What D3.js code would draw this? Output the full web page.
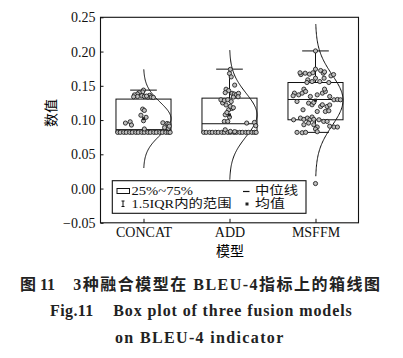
<!DOCTYPE html>
<html><head><meta charset="utf-8">
<script src="https://cdn.jsdelivr.net/npm/d3@7"></script>
<style>
html,body{margin:0;padding:0;background:#fff;}
svg{display:block;}
</style></head>
<body>
<svg id="chart" width="403" height="358"></svg>
<script>
// ---------- data ----------
const categories = ["CONCAT", "ADD", "MSFFM"];
const q1 = [0.082, 0.082, 0.1004];
const medians = [0.086, 0.0946, 0.130];
const q3 = [0.1306, 0.132, 0.1548];
const whiskerLow = [0.082, 0.082, 0.082];
const whiskerHigh = [0.1437, 0.1743, 0.2009];
const means = [0.102, 0.1075, 0.129];
const curveSd = [0.024, 0.0315, 0.037];
const yTicks = [-0.05, 0, 0.05, 0.10, 0.15, 0.20, 0.25];
const yTitle = "数值";
const xTitle = "模型";
const legendLabels = ["25%~75%", "1.5IQR内的范围", "中位线", "均值"];
const captionCn1 = "图 11", captionCn2 = "3种融合模型在 BLEU-4指标上的箱线图";
const captionEn1 = "Fig.11", captionEn2 = "Box plot of three fusion models", captionEn3 = "on BLEU-4 indicator";

// points: [value, jitter (category units)]
const bottomJitter = [-0.30,-0.27,-0.23,-0.20,-0.16,-0.13,-0.09,-0.06,-0.02,0.01,0.05,0.08,0.12,0.15,0.19,0.22,0.26,0.29,0.31];
const pointsConcat = bottomJitter.map(j => [0.082, j]).concat([
  [0.087,0.01],[0.0956,-0.21],[0.0975,-0.155],[0.0927,-0.14],
  [0.116,-0.01],[0.114,0.01],[0.107,-0.03],[0.104,0.03],[0.099,0.0],
  [0.096,0.225],[0.095,0.275],[0.094,0.295],[0.089,0.245],[0.088,0.29],[0.091,0.30],
  [0.1437,0],[0.141,-0.01],[0.140,-0.05],[0.138,-0.07],[0.1367,-0.105],[0.1355,-0.02],[0.1344,-0.07],
  [0.1345,0.01],[0.136,0.07],[0.1335,0.05],[0.1335,0.09],[0.133,0.115],[0.134,-0.115],[0.135,0.035]
]);
const pointsAdd = bottomJitter.map(j => [0.082, j]).concat([
  [0.0858,-0.05],[0.0834,0.01],[0.083,0.06],
  [0.0956,0.20],[0.0965,0.29],[0.0917,0.305],
  [0.098,-0.06],[0.098,-0.02],[0.1077,-0.05],[0.1044,0.0],[0.115,-0.01],[0.117,0.03],[0.111,-0.03],
  [0.120,0.01],[0.118,0.045],[0.125,-0.08],[0.122,-0.04],[0.1296,-0.10],[0.1286,-0.06],[0.1296,-0.02],[0.127,0.02],
  [0.174,0.01],[0.168,0.0],[0.163,0.02],[0.151,0.06],[0.145,-0.04],[0.143,-0.01],[0.140,-0.05],
  [0.139,0.03],[0.138,0.055],[0.137,0.08],[0.139,0.105],[0.1335,0.045],[0.134,0.10]
]);
const pointsMsffm = [
  [0.2009,0],[0.1743,0],[0.1684,-0.12],[0.1664,-0.17],[0.1690,-0.18],[0.1670,-0.07],[0.1690,-0.03],
  [0.1723,0.06],[0.1684,0.09],[0.1703,0.105],[0.1645,0.18],[0.1664,0.21],[0.1587,-0.09],[0.1562,-0.04],
  [0.1611,0.0],[0.1562,0.05],[0.1611,0.10],[0.1548,0.155],[0.1548,-0.10],[0.1368,-0.195],[0.1393,-0.155],
  [0.1451,-0.135],[0.1393,-0.245],[0.1354,-0.26],[0.1417,-0.115],[0.1344,-0.06],[0.1368,0.02],[0.1393,0.08],
  [0.1417,0.115],[0.1451,0.105],[0.1344,0.165],[0.1296,0.215],[0.1300,0.255],[0.1296,0.29],[0.1271,-0.215],
  [0.1247,-0.08],[0.1223,-0.04],[0.1257,-0.02],[0.1198,0.06],[0.1223,0.08],[0.1198,0.135],[0.1220,0.165],
  [0.1150,-0.145],[0.1125,0.02],[0.1125,0.115],[0.1135,0.155],[0.1004,-0.255],[0.1029,-0.175],[0.1010,-0.135],
  [0.1029,-0.095],[0.1004,-0.065],[0.1044,-0.04],[0.1010,-0.02],[0.1004,0.04],[0.0980,0.095],[0.0956,-0.08],
  [0.0932,-0.02],[0.0932,-0.135],[0.0980,0.135],[0.0898,0.02],[0.0869,0.0],[0.0910,0.165],[0.0898,0.215],
  [0.0898,0.255],[0.0820,-0.215],[0.0815,-0.155],[0.0820,-0.115],[0.0830,0.02],[0.0073,0]
];
const pointSets = [pointsConcat, pointsAdd, pointsMsffm];

// ---------- layout ----------
const serif = "'Liberation Serif','Times New Roman','Noto Sans CJK SC',serif";
const cjk = "'Noto Sans CJK SC','Liberation Serif',sans-serif";
const L = 100.5, R = 358.5, T = 17.3, B = 222.8;
const boxW = 0.64, capW = 0.31, curveAmp = 0.32;

const svg = d3.select("#chart");
const x = d3.scaleLinear().domain([0.5, 3.5]).range([L, R]);
const y = d3.scaleLinear().domain([-0.05, 0.25]).range([B, T]);

svg.append("defs").append("clipPath").attr("id","clip")
  .append("rect").attr("x",L).attr("y",T).attr("width",R-L).attr("height",B-T);

// axes
const yAxis = d3.axisLeft(y).tickValues(yTicks).tickSize(-3).tickPadding(5)
  .tickFormat(d3.format(".2f"));
const gy = svg.append("g").attr("transform",`translate(${L},0)`).call(yAxis);
gy.select(".domain").remove();
gy.selectAll("text").attr("font-family",serif).attr("font-size",14).attr("fill","#111");
gy.selectAll("line").attr("stroke","#111");

const xAxis = d3.axisBottom(x).tickValues([1,2,3]).tickFormat((d,i)=>categories[i]).tickSize(-4).tickPadding(4);
const gx = svg.append("g").attr("transform",`translate(0,${B})`).call(xAxis);
gx.select(".domain").remove();
gx.selectAll("text").attr("font-family",serif).attr("font-size",14).attr("fill","#111");
gx.selectAll("line").attr("stroke","#111");

svg.append("rect").attr("x",L).attr("y",T).attr("width",R-L).attr("height",B-T)
  .attr("fill","none").attr("stroke","#111").attr("stroke-width",1.1);

const plot = svg.append("g").attr("clip-path","url(#clip)");

// distribution curves
categories.forEach((c,i) => {
  const m = means[i], s = curveSd[i];
  const vals = d3.range(0, 121).map(k => m - 3*s + k*(6*s/120));
  const line = d3.line()
    .x(v => x(i+1 + curveAmp*Math.exp(-0.5*((v-m)/s)**2)))
    .y(v => y(v));
  plot.append("path").attr("d",line(vals)).attr("fill","none")
    .attr("stroke","#111").attr("stroke-width",1);
});

// boxes
categories.forEach((c,i) => {
  const cx = i+1;
  const g = plot.append("g").attr("stroke","#111").attr("stroke-width",1).attr("fill","none");
  g.append("line").attr("x1",x(cx)).attr("x2",x(cx)).attr("y1",y(q3[i])).attr("y2",y(whiskerHigh[i]));
  g.append("line").attr("x1",x(cx)).attr("x2",x(cx)).attr("y1",y(q1[i])).attr("y2",y(whiskerLow[i]));
  g.append("line").attr("x1",x(cx-capW/2)).attr("x2",x(cx+capW/2)).attr("y1",y(whiskerHigh[i])).attr("y2",y(whiskerHigh[i]));
  g.append("line").attr("x1",x(cx-capW/2)).attr("x2",x(cx+capW/2)).attr("y1",y(whiskerLow[i])).attr("y2",y(whiskerLow[i]));
  g.append("rect").attr("x",x(cx-boxW/2)).attr("y",y(q3[i]))
    .attr("width",x(cx+boxW/2)-x(cx-boxW/2)).attr("height",y(q1[i])-y(q3[i]));
  g.append("line").attr("x1",x(cx-boxW/2)).attr("x2",x(cx+boxW/2)).attr("y1",y(medians[i])).attr("y2",y(medians[i]));
});

// points
pointSets.forEach((pts,i) => {
  plot.append("g").selectAll("circle").data(pts).join("circle")
    .attr("cx", d => x(i+1+d[1])).attr("cy", d => y(d[0])).attr("r",2.1)
    .attr("fill","#bdbdbd").attr("stroke","#1a1a1a").attr("stroke-width",0.85);
});
// means
plot.append("g").selectAll("rect").data(means).join("rect")
  .attr("x",(d,i)=>x(i+1)-1.5).attr("y",d=>y(d)-1.5).attr("width",3).attr("height",3).attr("fill","#222");

// legend
const lg = svg.append("g");
lg.append("rect").attr("x",112.3).attr("y",180.7).attr("width",193.7).attr("height",32.6)
  .attr("fill","#fff").attr("stroke","#111").attr("stroke-width",1.1);
lg.append("rect").attr("x",117).attr("y",188.5).attr("width",12.5).attr("height",5)
  .attr("fill","none").attr("stroke","#111").attr("stroke-width",1);
lg.append("path").attr("d","M121.5,201 h3 M123,201 v5.5 M121.5,206.5 h3").attr("stroke","#111").attr("stroke-width",1);
lg.append("line").attr("x1",243).attr("x2",249.5).attr("y1",191.5).attr("y2",191.5).attr("stroke","#111").attr("stroke-width",1.2);
lg.append("rect").attr("x",245.5).attr("y",202.5).attr("width",3).attr("height",3).attr("fill","#222");
const lt = [[legendLabels[0],131.5,195.3,61.5],[legendLabels[1],131.5,207.6,100],[legendLabels[2],255,195.3,43],[legendLabels[3],255,207.6,30]];
lg.selectAll("text").data(lt).join("text").attr("x",d=>d[1]).attr("y",d=>d[2]).text(d=>d[0])
  .attr("textLength",d=>d[3]).attr("lengthAdjust","spacingAndGlyphs")
  .attr("font-family",serif).attr("font-size",12.5).attr("fill","#111");

// axis titles
svg.append("text").attr("transform","translate(56,113) rotate(-90)").attr("text-anchor","middle")
  .attr("font-family",cjk).attr("font-size",14).attr("fill","#000").text(yTitle);
svg.append("text").attr("x",230).attr("y",255.5).attr("text-anchor","middle")
  .attr("font-family",cjk).attr("font-size",14).attr("fill","#000").text(xTitle);

// caption
const cap = [
  [captionCn1, 20, 290, 35],
  [captionCn2, 73.3, 290, 306.7],
  [captionEn1, 50, 315.5, 43.3],
  [captionEn2, 113.3, 315.5, 238.4],
  [captionEn3, 115, 343, 168.3]
];
svg.append("g").selectAll("text").data(cap).join("text")
  .attr("x",d=>d[1]).attr("y",d=>d[2]).attr("textLength",d=>d[3]).attr("lengthAdjust","spacing")
  .attr("font-family",serif).attr("font-weight","bold").attr("font-size",16).attr("fill","#222")
  .text(d=>d[0]);
</script>
</body></html>
